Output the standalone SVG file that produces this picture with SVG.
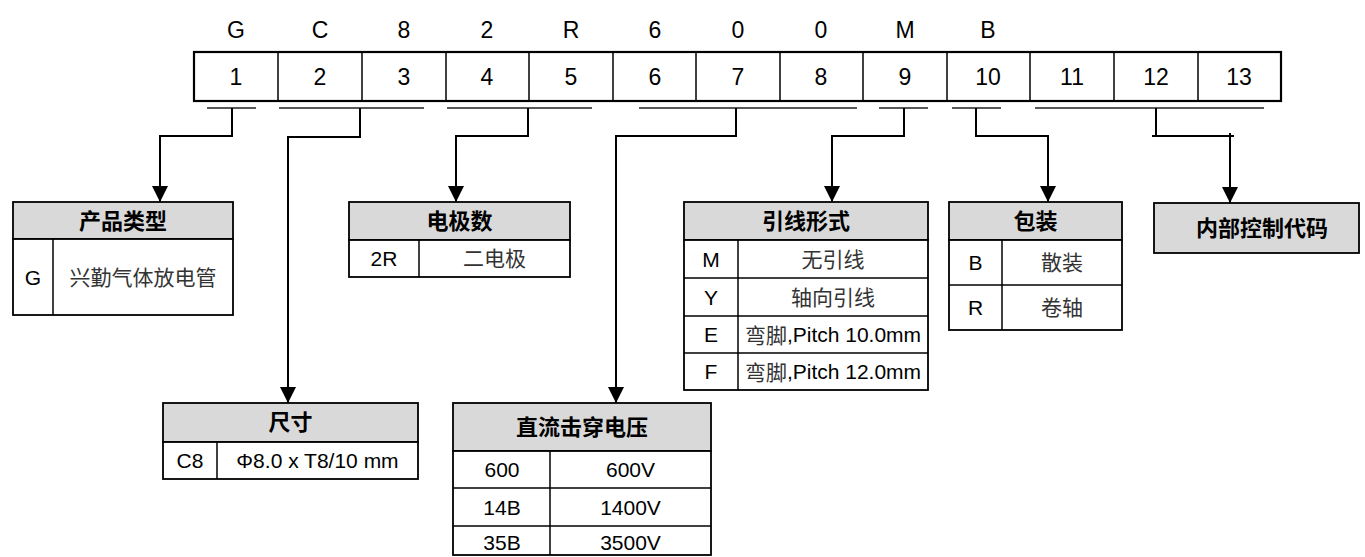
<svg xmlns="http://www.w3.org/2000/svg" width="1365" height="557" viewBox="0 0 1365 557">
<style>
text{font-family:"Liberation Sans","Noto Sans CJK SC",sans-serif;fill:#000;text-anchor:middle;dominant-baseline:central}
.top{font-size:23px}
.hd{font-size:22px;font-weight:bold}
.bd{font-size:21px}
.cj{fill:#333}
.cell{fill:#fff;stroke:#000;stroke-width:1.8}
.head{fill:#d9d9d9;stroke:#000;stroke-width:1.8}
.ln{stroke:#000;stroke-width:1.5;fill:none}
.ul{stroke:#222;stroke-width:1.5;fill:none}
.cn{stroke:#000;stroke-width:2;fill:none}
</style>
<defs>
<marker id="arr" markerUnits="userSpaceOnUse" markerWidth="16" markerHeight="16" refX="16" refY="8" orient="auto">
<path d="M0,0 L16,8 L0,16 z" fill="#000"/>
</marker>
</defs>

<g id="code">
<rect x="194" y="52" width="1087" height="49" fill="#fff" stroke="#000" stroke-width="2.2"/>
<g class="ln" stroke-width="2">
<line x1="278" y1="52" x2="278" y2="101"/><line x1="362" y1="52" x2="362" y2="101"/>
<line x1="446" y1="52" x2="446" y2="101"/><line x1="529" y1="52" x2="529" y2="101"/>
<line x1="613" y1="52" x2="613" y2="101"/><line x1="696" y1="52" x2="696" y2="101"/>
<line x1="780" y1="52" x2="780" y2="101"/><line x1="863" y1="52" x2="863" y2="101"/>
<line x1="947" y1="52" x2="947" y2="101"/><line x1="1030" y1="52" x2="1030" y2="101"/>
<line x1="1114" y1="52" x2="1114" y2="101"/><line x1="1198" y1="52" x2="1198" y2="101"/>
</g>
<g class="top">
<text x="236" y="30">G</text><text x="320" y="30">C</text><text x="404" y="30">8</text>
<text x="487" y="30">2</text><text x="571" y="30">R</text><text x="655" y="30">6</text>
<text x="738" y="30">0</text><text x="821" y="30">0</text><text x="905" y="30">M</text>
<text x="988" y="30">B</text>
<text x="236" y="77">1</text><text x="320" y="77">2</text><text x="404" y="77">3</text>
<text x="487" y="77">4</text><text x="571" y="77">5</text><text x="655" y="77">6</text>
<text x="738" y="77">7</text><text x="821" y="77">8</text><text x="905" y="77">9</text>
<text x="988" y="77">10</text><text x="1072" y="77">11</text><text x="1156" y="77">12</text>
<text x="1239" y="77">13</text>
</g>
</g>

<g id="connectors">
<g class="ul">
<line x1="207" y1="108" x2="256" y2="108"/>
<line x1="279" y1="108" x2="424" y2="108"/>
<line x1="447" y1="108" x2="592" y2="108"/>
<line x1="639" y1="108" x2="857" y2="108"/>
<line x1="879" y1="108" x2="928" y2="108"/>
<line x1="952" y1="108" x2="1001" y2="108"/>
<line x1="1035" y1="108" x2="1264" y2="108"/>
</g>
<g class="cn">
<polyline points="232,108 232,136 160,136 160,202" marker-end="url(#arr)"/>
<polyline points="360,108 360,137 288,137 288,403" marker-end="url(#arr)"/>
<polyline points="528,108 528,136 456,136 456,202" marker-end="url(#arr)"/>
<polyline points="736,108 736,136 616,136 616,403" marker-end="url(#arr)"/>
<polyline points="904,108 904,136 832,136 832,202" marker-end="url(#arr)"/>
<polyline points="976,108 976,136 1048,136 1048,202" marker-end="url(#arr)"/>
<polyline points="1156,108 1156,136"/>
<line x1="1152" y1="136" x2="1234" y2="136"/>
<polyline points="1230,133 1230,203" marker-end="url(#arr)"/>
</g>
</g>

<g id="product-type">
<rect class="head" x="13" y="202" width="220" height="37"/>
<rect class="cell" x="13" y="239" width="220" height="76"/>
<line class="ln" x1="53" y1="239" x2="53" y2="315"/>
<text class="hd" x="123" y="221">产品类型</text>
<text class="bd" x="33" y="277">G</text>
<text class="bd cj" x="143" y="277">兴勤气体放电管</text>
</g>

<g id="electrodes">
<rect class="head" x="349" y="202" width="221" height="38"/>
<rect class="cell" x="349" y="240" width="221" height="37"/>
<line class="ln" x1="419" y1="240" x2="419" y2="277"/>
<text class="hd" x="459.5" y="221">电极数</text>
<text class="bd" x="384" y="258.5">2R</text>
<text class="bd cj" x="494.5" y="258.5">二电极</text>
</g>

<g id="lead-form">
<rect class="head" x="684" y="202" width="244" height="38"/>
<rect class="cell" x="684" y="240" width="244" height="150"/>
<g class="ln">
<line x1="738" y1="240" x2="738" y2="390"/>
<line x1="684" y1="278" x2="928" y2="278"/>
<line x1="684" y1="316" x2="928" y2="316"/>
<line x1="684" y1="353" x2="928" y2="353"/>
</g>
<text class="hd" x="806" y="221">引线形式</text>
<text class="bd" x="711" y="259">M</text><text class="bd cj" x="833" y="259">无引线</text>
<text class="bd" x="711" y="297">Y</text><text class="bd cj" x="833" y="297">轴向引线</text>
<text class="bd" x="711" y="334.5">E</text><text class="bd" x="833" y="334.5"><tspan class="cj">弯脚</tspan>,Pitch 10.0mm</text>
<text class="bd" x="711" y="371.5">F</text><text class="bd" x="833" y="371.5"><tspan class="cj">弯脚</tspan>,Pitch 12.0mm</text>
</g>

<g id="packing">
<rect class="head" x="949" y="202" width="173" height="38"/>
<rect class="cell" x="949" y="240" width="173" height="90"/>
<g class="ln">
<line x1="1002" y1="240" x2="1002" y2="330"/>
<line x1="949" y1="285" x2="1122" y2="285"/>
</g>
<text class="hd" x="1035.5" y="221">包装</text>
<text class="bd" x="975.5" y="262.5">B</text><text class="bd cj" x="1062" y="262.5">散装</text>
<text class="bd" x="975.5" y="307.5">R</text><text class="bd cj" x="1062" y="307.5">卷轴</text>
</g>

<g id="internal-code">
<rect class="head" x="1154" y="203" width="205" height="50"/>
<text class="hd" x="1262" y="228">内部控制代码</text>
</g>

<g id="size">
<rect class="head" x="163" y="403" width="255" height="39"/>
<rect class="cell" x="163" y="442" width="255" height="37"/>
<line class="ln" x1="217" y1="442" x2="217" y2="479"/>
<text class="hd" x="290.5" y="422.5">尺寸</text>
<text class="bd" x="190" y="460.5">C8</text>
<text class="bd" x="317.5" y="460.5">Φ8.0 x T8/10 mm</text>
</g>

<g id="dc-voltage">
<rect class="head" x="453" y="403" width="258" height="48"/>
<rect class="cell" x="453" y="451" width="258" height="104"/>
<g class="ln">
<line x1="550" y1="451" x2="550" y2="555"/>
<line x1="453" y1="488" x2="711" y2="488"/>
<line x1="453" y1="526" x2="711" y2="526"/>
</g>
<text class="hd" x="582" y="427">直流击穿电压</text>
<text class="bd" x="502" y="469.5">600</text><text class="bd" x="630.5" y="469.5">600V</text>
<text class="bd" x="502" y="507">14B</text><text class="bd" x="630.5" y="507">1400V</text>
<text class="bd" x="502" y="542">35B</text><text class="bd" x="630.5" y="542">3500V</text>
</g>
</svg>
